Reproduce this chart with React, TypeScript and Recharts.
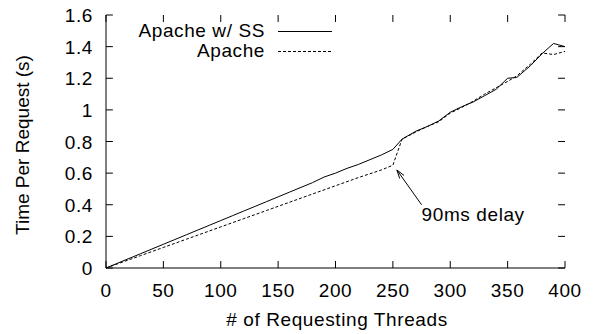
import { LineChart, Line, XAxis, YAxis, ReferenceLine, Customized } from 'recharts'

const threads = [
  0, 10, 20, 30, 40, 50, 60, 70, 80, 90, 100, 110, 120, 130, 140, 150, 160, 170, 180, 190, 200,
  210, 220, 230, 240, 250, 258, 270, 280, 290, 300, 310, 320, 330, 340, 350, 358, 370, 380, 390, 400,
]
const apacheSS = [
  0, 0.03, 0.06, 0.09, 0.12, 0.15, 0.18, 0.21, 0.24, 0.27, 0.3, 0.33, 0.36, 0.39, 0.42, 0.45,
  0.48, 0.51, 0.54, 0.575, 0.6, 0.63, 0.655, 0.685, 0.715, 0.75, 0.815, 0.865, 0.895, 0.93, 0.985,
  1.02, 1.05, 1.09, 1.13, 1.2, 1.205, 1.28, 1.355, 1.42, 1.4,
]
const apache = [
  0, 0.026, 0.052, 0.078, 0.104, 0.13, 0.156, 0.182, 0.208, 0.234, 0.26, 0.286, 0.312, 0.338,
  0.364, 0.39, 0.416, 0.442, 0.468, 0.494, 0.52, 0.546, 0.572, 0.596, 0.62, 0.65, 0.815, 0.86,
  0.895, 0.925, 0.98, 1.015, 1.055, 1.1, 1.14, 1.18, 1.215, 1.29, 1.36, 1.35, 1.37,
]
const xTicks = [0, 50, 100, 150, 200, 250, 300, 350, 400]
const yTicks = [0, 0.2, 0.4, 0.6, 0.8, 1, 1.2, 1.4, 1.6]

const data = threads.map((t, i) => ({ t, ss: apacheSS[i], plain: apache[i] }))

const font = 'Liberation Sans, Arial, sans-serif'
const txt = { fontSize: 19, fontFamily: font, fill: '#000', letterSpacing: 0.6 }

// inward tick length, in data units (about 7px)
const xTickLen = 6
const yTickLen = 0.044

const BottomTick = (p: any) => (
  <text x={p.x} y={p.y + 29} textAnchor="middle" {...txt}>{p.payload.value}</text>
)
const LeftTick = (p: any) => (
  <text x={p.x - 13} y={p.y + 7} textAnchor="end" {...txt}>{p.payload.value}</text>
)

const Arrow = (p: any) => {
  const { x1, y1, x2, y2 } = p
  const ang = Math.atan2(y2 - y1, x2 - x1)
  const len = 9
  const a1 = ang + Math.PI - 0.3
  const a2 = ang + Math.PI + 0.3
  return (
    <g>
      <line x1={x1} y1={y1} x2={x2} y2={y2} stroke="#000" strokeWidth={1} />
      <line x1={x2} y1={y2} x2={x2 + len * Math.cos(a1)} y2={y2 + len * Math.sin(a1)} stroke="#000" />
      <line x1={x2} y1={y2} x2={x2 + len * Math.cos(a2)} y2={y2 + len * Math.sin(a2)} stroke="#000" />
      <text x={x1} y={y1 + 16} {...txt}>90ms delay</text>
    </g>
  )
}

const Labels = () => (
  <g>
    <text x={265} y={37} textAnchor="end" {...txt}>Apache w/ SS</text>
    <line x1={278} y1={31.5} x2={332} y2={31.5} stroke="#000" />
    <text x={265} y={57} textAnchor="end" {...txt}>Apache</text>
    <line x1={278} y1={51.5} x2={332} y2={51.5} stroke="#000" strokeDasharray="3 2" />
    <text x={337} y={326} textAnchor="middle" {...txt}># of Requesting Threads</text>
    <text x={29} y={145} textAnchor="middle" transform="rotate(-90, 29, 145)" {...txt} letterSpacing={0}>
      Time Per Request (s)
    </text>
  </g>
)

export default function App() {
  return (
    <div style={{ position: 'absolute', left: 0, top: 0, background: '#fff' }}>
      <LineChart width={595} height={334} data={data} margin={{ top: 15, right: 30, bottom: 0, left: 0 }}>
        <XAxis
          dataKey="t"
          type="number"
          domain={[0, 400]}
          ticks={xTicks}
          height={66}
          tickSize={0}
          tickMargin={0}
          tickLine={false}
          axisLine={{ stroke: '#000' }}
          tick={BottomTick}
        />
        <XAxis
          xAxisId="top"
          orientation="top"
          dataKey="t"
          type="number"
          domain={[0, 400]}
          height={0}
          tick={false}
          tickLine={false}
          axisLine={{ stroke: '#000' }}
        />
        <YAxis
          type="number"
          domain={[0, 1.6]}
          ticks={yTicks}
          width={106}
          tickSize={0}
          tickMargin={0}
          tickLine={false}
          axisLine={{ stroke: '#000' }}
          tick={LeftTick}
        />
        <YAxis
          yAxisId="right"
          orientation="right"
          type="number"
          domain={[0, 1.6]}
          width={0}
          tick={false}
          tickLine={false}
          axisLine={{ stroke: '#000' }}
        />
        {xTicks.map((v) => (
          <ReferenceLine key={'b' + v} segment={[{ x: v, y: 0 }, { x: v, y: yTickLen }]} stroke="#000" ifOverflow="visible" />
        ))}
        {xTicks.map((v) => (
          <ReferenceLine key={'t' + v} segment={[{ x: v, y: 1.6 }, { x: v, y: 1.6 - yTickLen }]} stroke="#000" ifOverflow="visible" />
        ))}
        {yTicks.map((v) => (
          <ReferenceLine key={'l' + v} segment={[{ x: 0, y: v }, { x: xTickLen, y: v }]} stroke="#000" ifOverflow="visible" />
        ))}
        {yTicks.map((v) => (
          <ReferenceLine key={'r' + v} segment={[{ x: 400, y: v }, { x: 400 - xTickLen, y: v }]} stroke="#000" ifOverflow="visible" />
        ))}
        <Line dataKey="ss" stroke="#000" strokeWidth={1} dot={false} isAnimationActive={false} />
        <Line dataKey="plain" stroke="#000" strokeWidth={1} strokeDasharray="3 2" dot={false} isAnimationActive={false} />
        <ReferenceLine
          segment={[{ x: 275, y: 0.4 }, { x: 253.5, y: 0.62 }]}
          shape={Arrow}
          ifOverflow="visible"
        />
        <Customized component={Labels} />
      </LineChart>
    </div>
  )
}
